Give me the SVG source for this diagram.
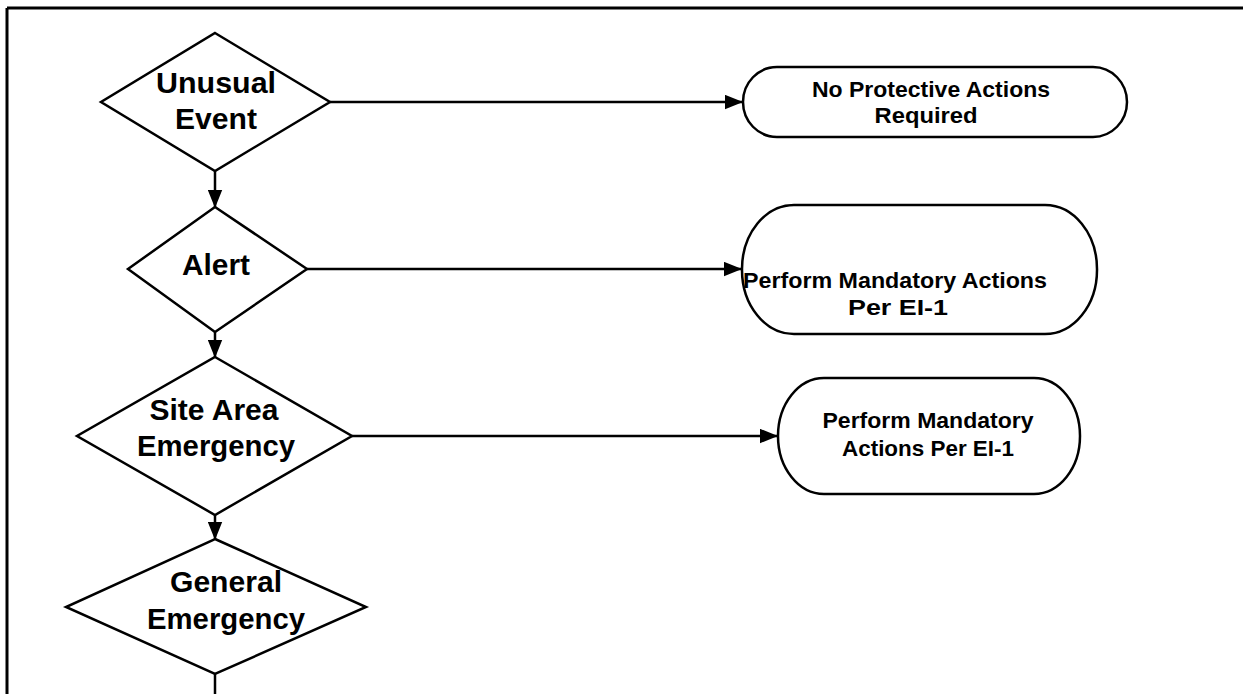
<svg xmlns="http://www.w3.org/2000/svg" width="1243" height="694" viewBox="0 0 1243 694">
<style>
.shape{fill:#fff;stroke:#000;stroke-width:2.5}
.conn{stroke:#000;stroke-width:2.5;fill:none}
.dt{font-family:"Liberation Sans",Arial,sans-serif;font-weight:bold;font-size:29px;text-anchor:middle;fill:#000}
.pt{font-family:"Liberation Sans",Arial,sans-serif;font-weight:bold;font-size:22px;text-anchor:middle;fill:#000}
</style>
<defs>
<marker id="arr" viewBox="0 0 20 16" refX="20" refY="8" markerWidth="18" markerHeight="15" markerUnits="userSpaceOnUse" orient="auto">
<path d="M0,0 L20,8 L0,16 z" fill="#000"/>
</marker>
</defs>
<rect width="1243" height="694" fill="#fff"/>
<g id="frame" stroke="#000" stroke-width="3" fill="none">
<line x1="7" y1="8" x2="1243" y2="8"/>
<line x1="7" y1="8" x2="7" y2="694"/>
</g>
<g id="connectors">
<line class="conn" x1="330" y1="102" x2="743" y2="102" marker-end="url(#arr)"/>
<line class="conn" x1="307" y1="269" x2="742" y2="269" marker-end="url(#arr)"/>
<line class="conn" x1="352" y1="436" x2="778" y2="436" marker-end="url(#arr)"/>
<line class="conn" x1="215" y1="171" x2="215" y2="208" marker-end="url(#arr)"/>
<line class="conn" x1="215" y1="332" x2="215" y2="358" marker-end="url(#arr)"/>
<line class="conn" x1="215" y1="515" x2="215" y2="540" marker-end="url(#arr)"/>
<line class="conn" x1="215" y1="674" x2="215" y2="694"/>
</g>
<g id="unusual-event">
<polygon class="shape" points="215,33 330,102 215,171 101,102"/>
<text class="dt" x="216" y="93" textLength="120" lengthAdjust="spacingAndGlyphs">Unusual</text>
<text class="dt" x="216" y="129" textLength="82" lengthAdjust="spacingAndGlyphs">Event</text>
</g>
<g id="alert">
<polygon class="shape" points="215,207 307,269 215,332 128,269"/>
<text class="dt" x="216" y="275" textLength="68" lengthAdjust="spacingAndGlyphs">Alert</text>
</g>
<g id="site-area-emergency">
<polygon class="shape" points="215,357 352,436 215,515 77,436"/>
<text class="dt" x="214" y="420" textLength="129" lengthAdjust="spacingAndGlyphs">Site Area</text>
<text class="dt" x="216" y="456" textLength="158" lengthAdjust="spacingAndGlyphs">Emergency</text>
</g>
<g id="general-emergency">
<polygon class="shape" points="215,539 366,607 215,674 66,607"/>
<text class="dt" x="226" y="592" textLength="112" lengthAdjust="spacingAndGlyphs">General</text>
<text class="dt" x="226" y="629" textLength="158" lengthAdjust="spacingAndGlyphs">Emergency</text>
</g>
<g id="no-protective-actions">
<rect class="shape" x="743" y="67" width="384" height="70" rx="34" ry="35"/>
<text class="pt" x="931" y="97" textLength="238" lengthAdjust="spacingAndGlyphs">No Protective Actions</text>
<text class="pt" x="926" y="123" textLength="103" lengthAdjust="spacingAndGlyphs">Required</text>
</g>
<g id="mandatory-actions-alert">
<rect class="shape" x="742" y="205" width="355" height="129" rx="52" ry="64"/>
<text class="pt" x="895" y="288" textLength="304" lengthAdjust="spacingAndGlyphs">Perform Mandatory Actions</text>
<text class="pt" x="898" y="315" textLength="100" lengthAdjust="spacingAndGlyphs">Per EI-1</text>
</g>
<g id="mandatory-actions-site">
<rect class="shape" x="778" y="378" width="302" height="116" rx="46" ry="58"/>
<text class="pt" x="928" y="428" textLength="211" lengthAdjust="spacingAndGlyphs">Perform Mandatory</text>
<text class="pt" x="928" y="456" textLength="172" lengthAdjust="spacingAndGlyphs">Actions Per EI-1</text>
</g>
</svg>
